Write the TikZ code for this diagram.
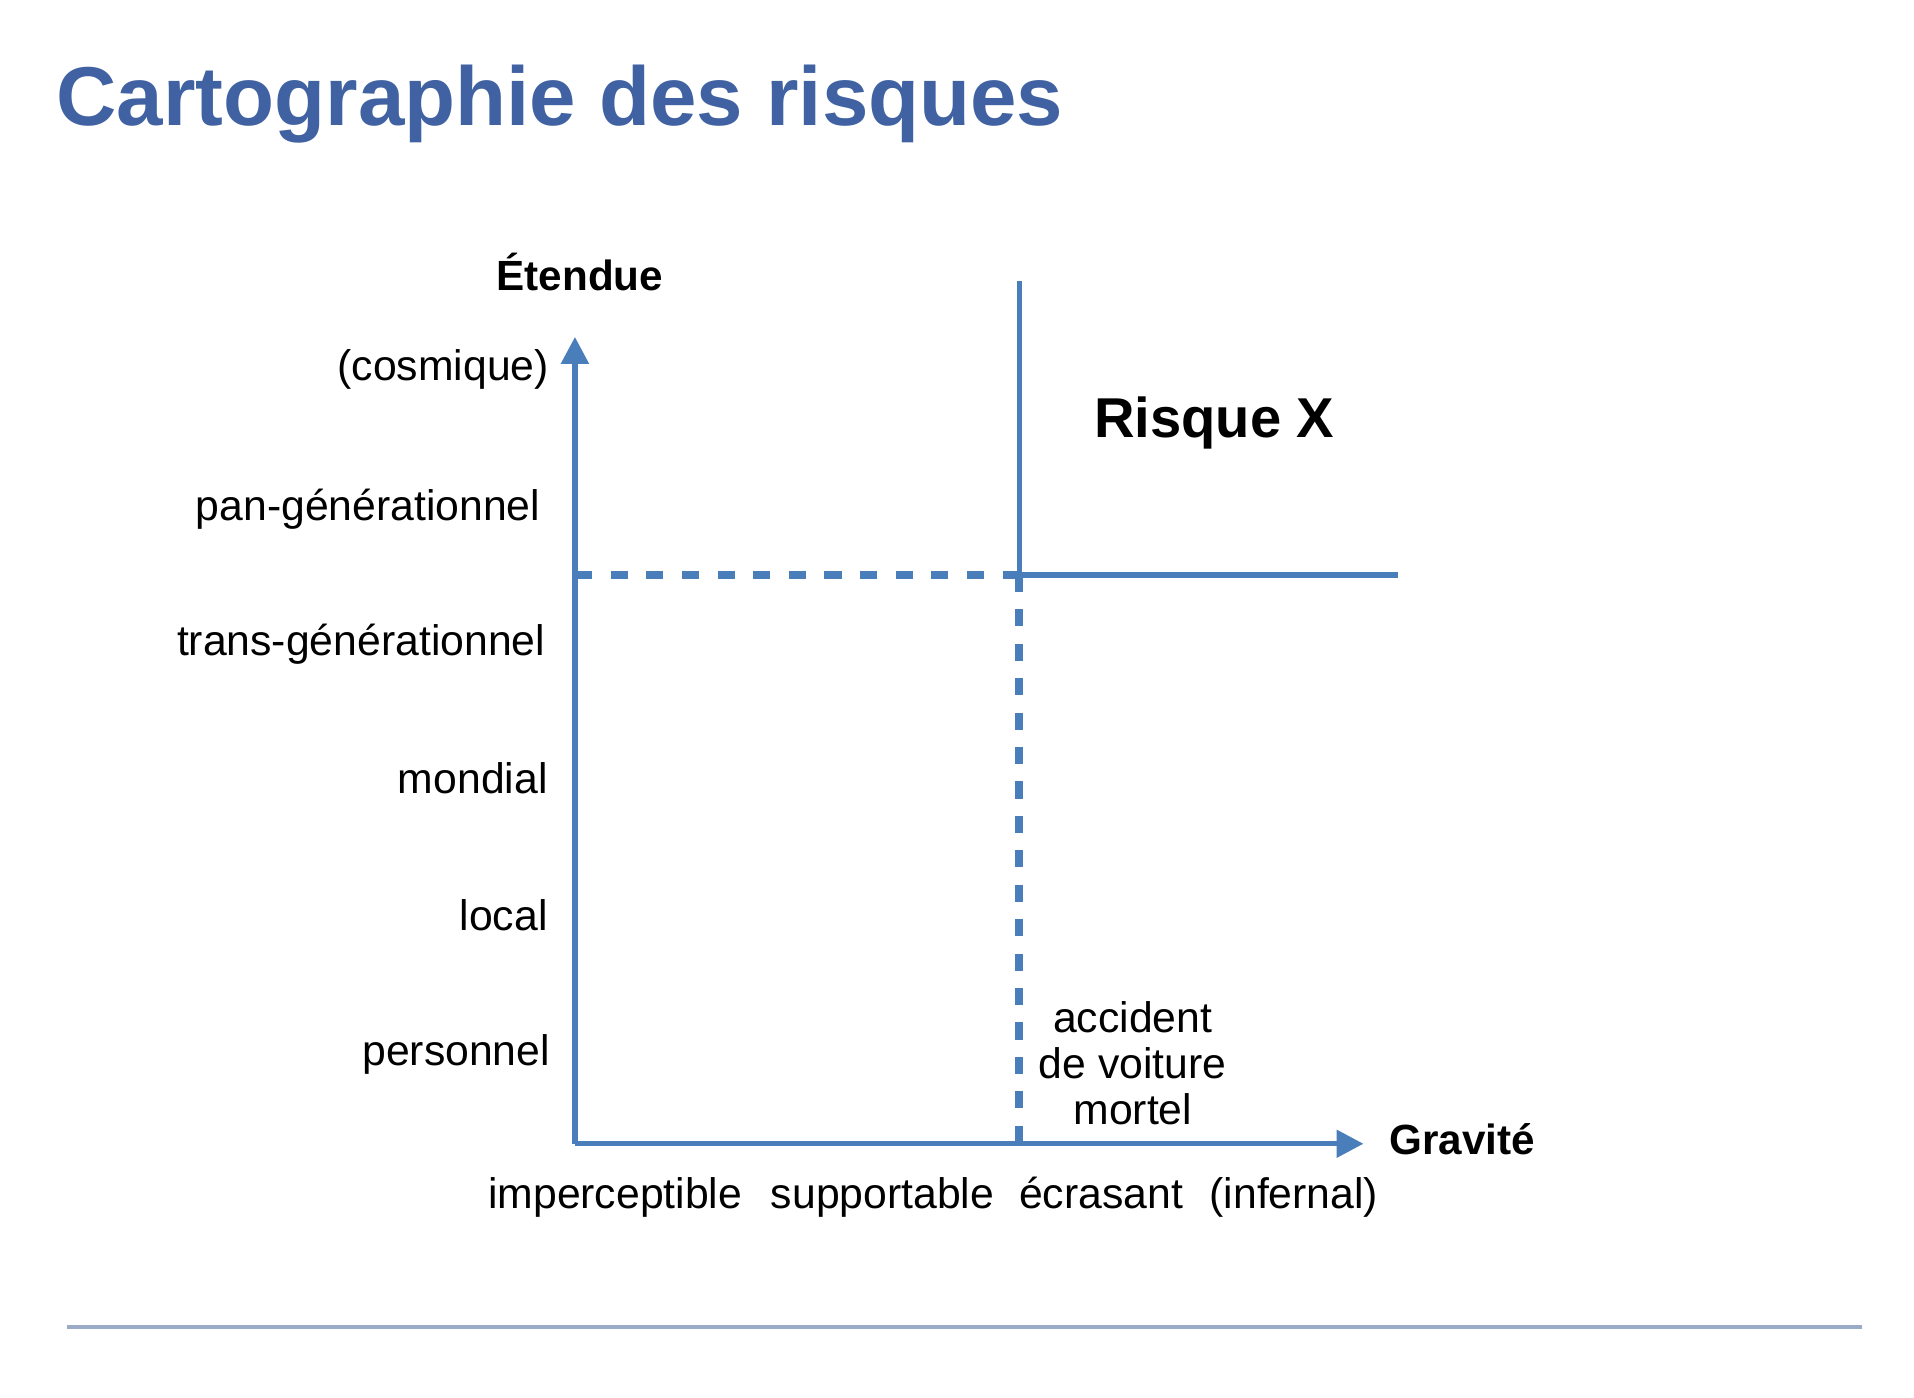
\documentclass[tikz,border=0pt]{standalone}
\usepackage{fontspec}
\setmainfont{Liberation Sans}
\usetikzlibrary{arrows.meta,positioning}
\definecolor{lineblue}{HTML}{4A7EBB}
\definecolor{titleblue}{HTML}{4162A2}
\definecolor{rulegray}{HTML}{9AABC8}
\tikzstyle{axe}       = [draw=lineblue, line width=2.2pt, -{Triangle[length=11pt,width=11pt]}]
\tikzstyle{seuil}     = [draw=lineblue, line width=2.2pt]
\tikzstyle{pointille} = [draw=lineblue, line width=3.2pt, dash pattern=on 7pt off 7.6pt]
\tikzstyle{niveau}    = [anchor=base east, font=\fontsize{17.5}{18.75}\selectfont]
\tikzstyle{degre}     = [anchor=base, font=\fontsize{17.5}{18.75}\selectfont]
\tikzstyle{titreaxe}  = [font=\bfseries\fontsize{17.3}{21}\selectfont]

\begin{document}
\begin{tikzpicture}[x=0.5pt, y=-0.5pt, every node/.style={inner sep=0pt}]
		\useasboundingbox (0,0) rectangle (1568,1145);

		\node[anchor=base west, text=titleblue, font=\bfseries\fontsize{34.2}{40}\selectfont] (titre) at (46,103) {Cartographie des risques};

		% axes
		\coordinate (orig) at (471,937);
		\coordinate (ytip) at (471,276);
		\coordinate (xtip) at (1117,937);
		\draw[axe] (orig) -- (ytip);
		\draw[axe] (orig) -- (xtip);
		\node[titreaxe, anchor=base] (etendue) at (475,238) {Étendue};
		\node[titreaxe, anchor=base west] (gravite) at (1138,946) {Gravité};

		% seuils
		\coordinate (haut) at (835,230);
		\coordinate (croix) at (835,471);
		\coordinate (pied) at (835,937);
		\coordinate (gauche) at (471,471);
		\coordinate (droite) at (1145,471);
		\draw[seuil] (haut) -- (croix) -- (droite);
		\draw[pointille] (gauche) -- (croix);
		\draw[pointille, dash pattern=on 7pt off 7.1pt] (croix) -- (pied);

		\node[anchor=base west, font=\bfseries\fontsize{23}{28}\selectfont] (risque) at (896,358) {Risque X};

		% niveaux
		\node[niveau] (cosmique) at (450,312) {(cosmique)};
		\node[niveau] (pan) at (443,426) {pan-générationnel};
		\node[niveau] (trans) at (447,537) {trans-générationnel};
		\node[niveau] (mondial) at (449,650) {mondial};
		\node[niveau] (local) at (449,762) {local};
		\node[niveau] (perso) at (451,873) {personnel};

		% degres
		\node[degre] (imper) at (504,990) {imperceptible};
		\node[degre] (suppo) at (723,990) {supportable};
		\node[degre] (ecras) at (902,990) {écrasant};
		\node[degre] (infer) at (1060,990) {(infernal)};

		\node[degre, align=center] (accident) at (928,921) {accident\\de voiture\\mortel};

		\coordinate (r1) at (55,1087);
		\coordinate (r2) at (1525,1087);
		\draw[rulegray, line width=1.6pt] (r1) -- (r2);
	\end{tikzpicture}
\end{document}
